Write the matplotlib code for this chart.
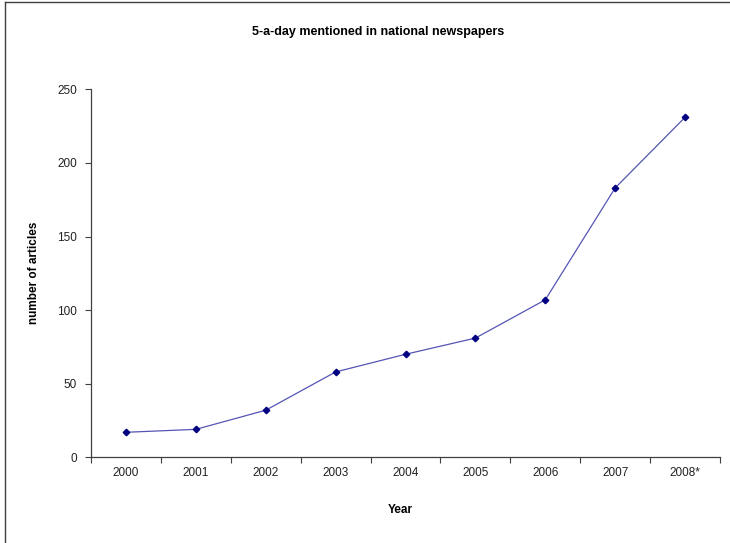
import matplotlib
matplotlib.use("Agg")
import matplotlib.pyplot as plt
from matplotlib.lines import Line2D

# Articles mentioning 5-a-day per year
years = ['2000', '2001', '2002', '2003', '2004', '2005', '2006', '2007', '2008*']
articles = [17, 19, 32, 58, 70, 81, 107, 183, 231]
y_ticks = [0, 50, 100, 150, 200, 250]

plt.rcParams['font.family'] = ['Liberation Sans', 'DejaVu Sans']

fig = plt.figure(figsize=(7.3, 5.43), dpi=100)
ax = fig.add_axes([0.1247, 0.1578, 0.8616, 0.6777])

x = [i + 0.5 for i in range(len(years))]
ax.plot(x, articles, color='#5555B5', linewidth=0.9,
        marker='D', markersize=3.3, markerfacecolor='#000080',
        markeredgecolor='#000080', zorder=3)

ax.set_xlim(0, len(years))
ax.set_ylim(0, 250)
ax.set_yticks(y_ticks)
ax.set_yticklabels([str(v) for v in y_ticks], fontsize=8.5, color='#222222')

# category ticks sit between the labels
ax.set_xticks(range(len(years) + 1))
ax.set_xticklabels([])
ax.set_xticks(x, minor=True)
ax.set_xticklabels(years, minor=True, fontsize=8.5, color='#222222')
ax.tick_params(axis='x', which='minor', length=0, pad=7)
ax.tick_params(axis='x', which='major', length=4, width=0.8, color='#404040')
ax.tick_params(axis='y', length=4, width=0.8, color='#404040', pad=6)

for side in ['top', 'right']:
    ax.spines[side].set_visible(False)
for side in ['left', 'bottom']:
    ax.spines[side].set_color('#404040')
    ax.spines[side].set_linewidth(0.9)

fig.text(0.518, 0.941, '5-a-day mentioned in national newspapers',
         ha='center', va='center', fontsize=9, fontweight='bold')
fig.text(0.548, 0.061, 'Year', ha='center', va='center',
         fontsize=8.5, fontweight='bold')
fig.text(0.047, 0.497, 'number of articles', ha='center', va='center',
         rotation=90, fontsize=8.5, fontweight='bold')

# chart area border (left and top edges)
fig.add_artist(Line2D([0.0068, 0.0068], [0.0, 0.9963], transform=fig.transFigure,
                      color='#404040', linewidth=1.0))
fig.add_artist(Line2D([0.0068, 1.0], [0.9963, 0.9963], transform=fig.transFigure,
                      color='#404040', linewidth=1.0))

fig.savefig('out.png', dpi=100)
